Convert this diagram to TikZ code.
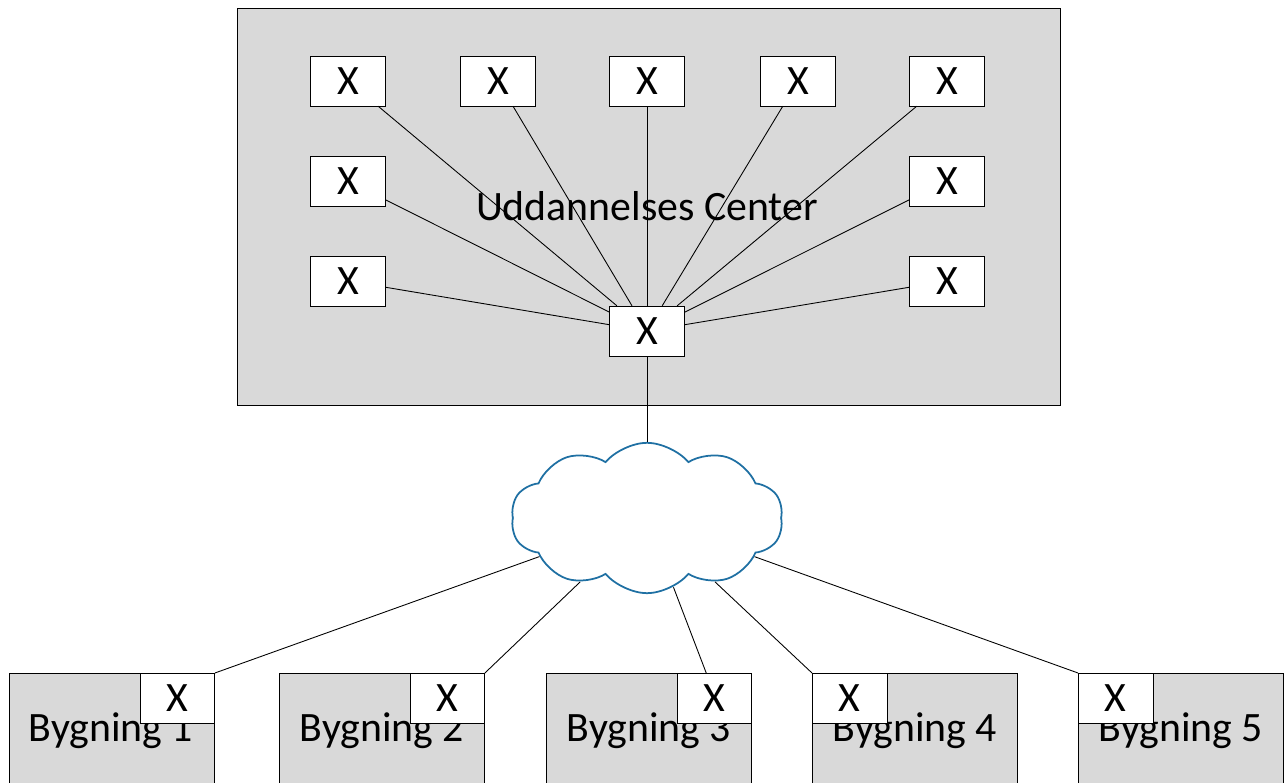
\documentclass[tikz,border=0pt]{standalone}
\usepackage{fontspec}
\setmainfont{Carlito}
\usepackage{tikz}
\usetikzlibrary{shapes.symbols}

\definecolor{boxgray}{HTML}{D9D9D9}
\definecolor{cloudblue}{RGB}{31,112,163}

\begin{document}
\begin{tikzpicture}[x=0.02cm, y=-0.02cm,
        font=\fontsize{23.8}{27}\selectfont,
        xbox/.style={draw, fill=white, inner sep=0pt, minimum width=42.5pt, minimum height=28.3pt},
        bldg/.style={draw, fill=boxgray, inner sep=0pt, anchor=north west, minimum width=116.8pt, minimum height=80pt},
        link/.style={line width=0.5pt}]
        % Define Variables
        \def\colL{348}
        \def\colR{947}
        \def\hubX{647}

        % Frame
        \clip (0,0) rectangle (1286,783);
        \useasboundingbox (0,0) rectangle (1286,783);

        % Uddannelses Center
        \node[draw, fill=boxgray, inner sep=0pt, anchor=north west, minimum width=468.2pt, minimum height=226pt] (uc) at (237,8) {};
        \node[xbox] (hub) at (\hubX,331) {X};
        \node[xbox] (x1) at (\colL,81) {X};
        \node[xbox] (x2) at (498,81) {X};
        \node[xbox] (x3) at (\hubX,81) {X};
        \node[xbox] (x4) at (798,81) {X};
        \node[xbox] (x5) at (\colR,81) {X};
        \node[xbox] (x6) at (\colL,181) {X};
        \node[xbox] (x7) at (\colR,181) {X};
        \node[xbox] (x8) at (\colL,281) {X};
        \node[xbox] (x9) at (\colR,281) {X};
        \draw[link] (x1) -- (hub);
        \draw[link] (x2) -- (hub);
        \draw[link] (x3) -- (hub);
        \draw[link] (x4) -- (hub);
        \draw[link] (x5) -- (hub);
        \draw[link] (x6) -- (hub);
        \draw[link] (x7) -- (hub);
        \draw[link] (x8) -- (hub);
        \draw[link] (x9) -- (hub);
        \node (uclbl) at (\hubX,206) {Uddannelses Center};

        % Network
        \node[cloud, cloud puffs=10, cloud puff arc=100, cloud ignores aspect, draw=cloudblue, line width=1pt, fill=white, inner sep=0pt, minimum width=154.8pt, minimum height=85.6pt] (net) at (\hubX,518) {};
        \draw[link] (hub) -- (net);

        % Buildings
        \node[bldg] (b1) at (9,673) {};
        \node (b1l) at (111,731) {Bygning 1};
        \node[xbox, anchor=north east] (b1x) at (b1.north east) {X};
        \node[bldg] (b2) at (279,673) {};
        \node (b2l) at (382,731) {Bygning 2};
        \node[xbox, anchor=north east] (b2x) at (b2.north east) {X};
        \node[bldg] (b3) at (546,673) {};
        \node (b3l) at (649,731) {Bygning 3};
        \node[xbox, anchor=north east] (b3x) at (b3.north east) {X};
        \node[bldg] (b4) at (812,673) {};
        \node (b4l) at (915,731) {Bygning 4};
        \node[xbox, anchor=north west] (b4x) at (b4.north west) {X};
        \node[bldg] (b5) at (1078,673) {};
        \node (b5l) at (1181,731) {Bygning 5};
        \node[xbox, anchor=north west] (b5x) at (b5.north west) {X};

        % Links to buildings
        \draw[link] (b1x.north east) -- (net);
        \draw[link] (b2x.north east) -- (net);
        \draw[link] (b3x.north) ++(-8,0) coordinate (b3c) -- (net);
        \draw[link] (b4x.north west) -- (net);
        \draw[link] (b5x.north west) -- (net);
    \end{tikzpicture}
\end{document}
